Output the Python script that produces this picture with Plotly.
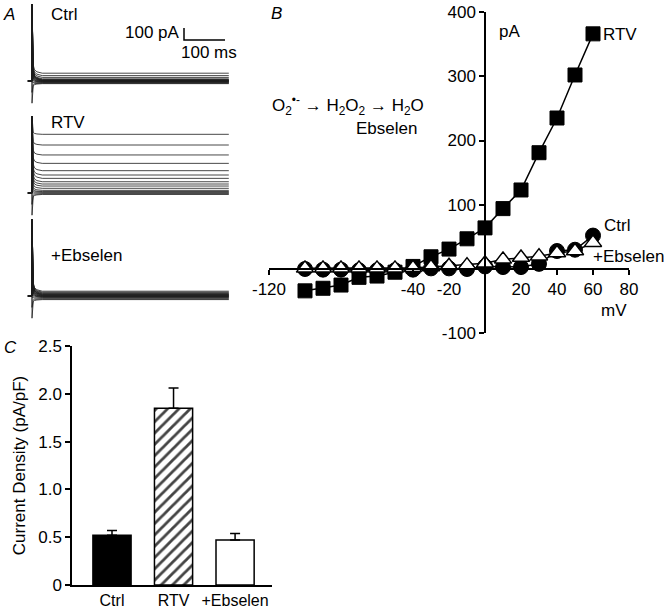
import plotly.graph_objects as go

W, H = 672, 611
FONT = "Liberation Sans, Arial, sans-serif"

# ---------------- data ----------------
# Panel A: steady-state current level of each voltage-step trace (pA, relative to holding)
ctrl_levels = [-22, -18, -14, -10, -8, -5, -3, 0, 2, 4, 6, 9, 12, 18, 30, 45, 65]
rtv_levels = [-12, -6, 0, 6, 12, 22, 39, 58, 75, 94, 122, 150, 186, 247, 317, 400, 489]
ebs_levels = [-30, -24, -18, -12, -8, -5, -2, 0, 3, 6, 9, 12, 16, 20, 26, 32, 40]
# capacitive transient peak of each trace (pA)
spike_peaks = [-185, -95, 0, 80, 160, 240, 320, 400, 480, 560, 640, 640, 640, 640, 640, 640, 640]
# time points of the transient decay (ms) and its remaining fraction
decay_t = [0, 1, 3, 6, 12, 25]
decay_frac = [1.0, 0.3, 0.12, 0.05, 0.02, 0.0]
hold_t = -10
end_t = 480

# Panel B: I-V relationship
voltage = [-100, -90, -80, -70, -60, -50, -40, -30, -20, -10, 0, 10, 20, 30, 40, 50, 60]
iv_rtv = [-34, -30, -25, -13, -11, -5, 4, 19, 31, 47, 64, 94, 123, 181, 235, 302, 366]
iv_ctrl = [0, -1, -1, -2, -2, -2, -1, 1, 1, 0, 4, 3, 3, 8, 28, 30, 52]
iv_ebs = [1, 1, 1, 1, 1, 1, 2, 3, 5, 6, 9, 15, 18, 20, 25, 28, 41]
iv_xticks = [-120, -40, -20, 20, 40, 60, 80]
iv_xticktext = ["-120", "-40", "-20", "20", "40", "60", "80"]
iv_yticks = [-100, 100, 200, 300, 400]
iv_yticktext = ["-100", "100", "200", "300", "400"]

# Panel C: current density
groups = ["Ctrl", "RTV", "+Ebselen"]
density = [0.52, 1.85, 0.47]
density_sem = [0.05, 0.21, 0.07]
c_yticks = [0, 0.5, 1.0, 1.5, 2.0, 2.5]
c_yticktext = ["0", "0.5", "1.0", "1.5", "2.0", "2.5"]


# ---------------- helpers ----------------
def px(x):
    return x / W


def py(y):
    return 1 - y / H


def xdom(a, b):
    return [px(a), px(b)]


def ydom(top, bot):
    return [py(bot), py(top)]


fig = go.Figure()
TICKFONT = dict(family=FONT, size=17, color="black")

# ---------------- Panel A ----------------
A_T0_PX = 32          # pixel of t = 0
MS_PER_PX = 100 / 41  # 100 ms = 41 px
PA_PER_PX = 100 / 12  # 100 pA = 12 px
a_x_left, a_x_right = 22, 240
a_xrange = [(a_x_left - A_T0_PX) * MS_PER_PX, (a_x_right - A_T0_PX) * MS_PER_PX]
# (domain top px, domain bottom px, baseline px)
a_panels = [(0, 108, 81), (108, 218, 193), (218, 330, 296)]
a_levels = [ctrl_levels, rtv_levels, ebs_levels]

for i, ((top, bot, base), levels) in enumerate(zip(a_panels, a_levels), start=1):
    xa = "x" if i == 1 else f"x{i}"
    ya = "y" if i == 1 else f"y{i}"
    for lev, pk in zip(levels, spike_peaks):
        tx = [hold_t, 0] + decay_t + [end_t]
        ty = [0, 0] + [lev + (pk - lev) * f for f in decay_frac] + [lev]
        fig.add_trace(go.Scatter(x=tx, y=ty, mode="lines", xaxis=xa, yaxis=ya,
                                 line=dict(color="#1a1a1a", width=0.8),
                                 showlegend=False, hoverinfo="skip"))
    suffix = "" if i == 1 else str(i)
    fig.layout["xaxis" + suffix] = dict(domain=xdom(a_x_left, a_x_right), range=a_xrange,
                                        visible=False, anchor=ya, fixedrange=True,
                                        automargin=False)
    fig.layout["yaxis" + suffix] = dict(domain=ydom(top, bot),
                                        range=[-(bot - base) * PA_PER_PX, (base - top) * PA_PER_PX],
                                        visible=False, anchor=xa, fixedrange=True,
                                        automargin=False)

# scale bar (100 pA, 100 ms) in the Ctrl panel's data space
sb_t = (184 - A_T0_PX) * MS_PER_PX
sb_i = (81 - 40) * PA_PER_PX
fig.add_shape(type="path", xref="x", yref="y",
              path=f"M {sb_t} {sb_i + 100} L {sb_t} {sb_i} L {sb_t + 100} {sb_i}",
              line=dict(color="black", width=1.5))

# ---------------- Panel B ----------------
b_xrange = [-120, 80]
b_yrange = [-100, 400]
b_xd = xdom(269, 629)
b_yd = ydom(12, 333.25)
x_zero_pos = b_xd[0] + (0 - b_xrange[0]) / (b_xrange[1] - b_xrange[0]) * (b_xd[1] - b_xd[0])
y_zero_pos = b_yd[0] + (0 - b_yrange[0]) / (b_yrange[1] - b_yrange[0]) * (b_yd[1] - b_yd[0])

fig.add_trace(go.Scatter(x=voltage, y=iv_rtv, mode="lines+markers", xaxis="x4", yaxis="y4",
                         line=dict(color="black", width=1.5),
                         marker=dict(symbol="square", size=14, color="black",
                                     line=dict(color="black", width=1)),
                         showlegend=False))
fig.add_trace(go.Scatter(x=voltage, y=iv_ctrl, mode="lines+markers", xaxis="x4", yaxis="y4",
                         line=dict(color="black", width=1.5),
                         marker=dict(symbol="circle", size=15, color="black",
                                     line=dict(color="black", width=1)),
                         showlegend=False))
fig.add_trace(go.Scatter(x=voltage, y=iv_ebs, mode="lines+markers", xaxis="x4", yaxis="y4",
                         line=dict(color="black", width=1.5),
                         marker=dict(symbol="triangle-up", size=15, color="white",
                                     line=dict(color="black", width=1.5)),
                         showlegend=False))

fig.layout.xaxis4 = dict(domain=b_xd, range=b_xrange, anchor="free", position=y_zero_pos,
                         showline=True, linecolor="black", linewidth=1.5,
                         ticks="outside", ticklen=5, tickwidth=1.5, tickcolor="black",
                         tickvals=iv_xticks, ticktext=iv_xticktext,
                         showgrid=False, zeroline=False,
                         tickfont=TICKFONT, fixedrange=True, automargin=False)
fig.layout.yaxis4 = dict(domain=b_yd, range=b_yrange, anchor="free", position=x_zero_pos,
                         showline=True, linecolor="black", linewidth=1.5,
                         ticks="outside", ticklen=5, tickwidth=1.5, tickcolor="black",
                         tickvals=iv_yticks, ticktext=iv_yticktext,
                         showgrid=False, zeroline=False,
                         tickfont=TICKFONT, fixedrange=True, automargin=False)

# ---------------- Panel C ----------------
c_x = [0, 1, 2]
fig.add_trace(go.Bar(x=c_x, y=density, xaxis="x5", yaxis="y5", width=0.62,
                     marker=dict(color=["black", "white", "white"],
                                 line=dict(color="black", width=1.5),
                                 pattern=dict(shape=["", "/", ""], fgcolor="black",
                                              fgopacity=1, size=8, solidity=0.35,
                                              fillmode="overlay")),
                     error_y=dict(type="data", symmetric=False, array=density_sem,
                                  arrayminus=[0, 0, 0], color="black", thickness=1.5, width=5),
                     showlegend=False))

fig.layout.xaxis5 = dict(domain=xdom(72, 272), range=[-0.65, 2.6], anchor="y5",
                         showline=True, linecolor="black", linewidth=1.5, ticks="",
                         tickvals=c_x, ticktext=groups, showgrid=False, zeroline=False,
                         tickfont=dict(family=FONT, size=16, color="black"),
                         fixedrange=True, automargin=False)
fig.layout.yaxis5 = dict(domain=ydom(346, 585), range=[0, 2.5], anchor="x5",
                         showline=True, linecolor="black", linewidth=1.5,
                         ticks="outside", ticklen=5, tickwidth=1.5, tickcolor="black",
                         tickvals=c_yticks, ticktext=c_yticktext, showgrid=False, zeroline=False,
                         tickfont=TICKFONT,
                         title=dict(text="Current Density (pA/pF)", standoff=8,
                                    font=dict(family=FONT, size=17, color="black")),
                         fixedrange=True, automargin=False)

# ---------------- text ----------------
def note(text, x, y, xanchor="left", italic=False, size=17):
    fig.add_annotation(text=f"<i>{text}</i>" if italic else text, x=px(x), y=py(y),
                       xref="paper", yref="paper", xanchor=xanchor, yanchor="middle",
                       showarrow=False, font=dict(family=FONT, size=size, color="black"))


note("A", 9, 14, "center", italic=True)
note("Ctrl", 49, 14)
note("RTV", 49, 122)
note("+Ebselen", 49, 255)
note("100 pA", 182, 33, "right")
note("100 ms", 179, 53)

note("B", 276, 13, "center", italic=True)
note("pA", 497, 32)
note("RTV", 601, 34)
note("Ctrl", 602, 226)
note("+Ebselen", 591, 256)
note("mV", 599, 310)
note("O<sub>2</sub><sup>•-</sup> → H<sub>2</sub>O<sub>2</sub> → H<sub>2</sub>O", 270, 106)
note("Ebselen", 354, 128)

note("C", 10, 347, "center", italic=True)

fig.update_layout(width=W, height=H, margin=dict(l=0, r=0, t=0, b=0, autoexpand=False),
                  paper_bgcolor="white", plot_bgcolor="white",
                  font=dict(family=FONT, size=17, color="black"), showlegend=False)

fig.write_html("out.html", config={"displayModeBar": False},
               post_script="document.body.style.margin='0';document.body.style.padding='0';")
